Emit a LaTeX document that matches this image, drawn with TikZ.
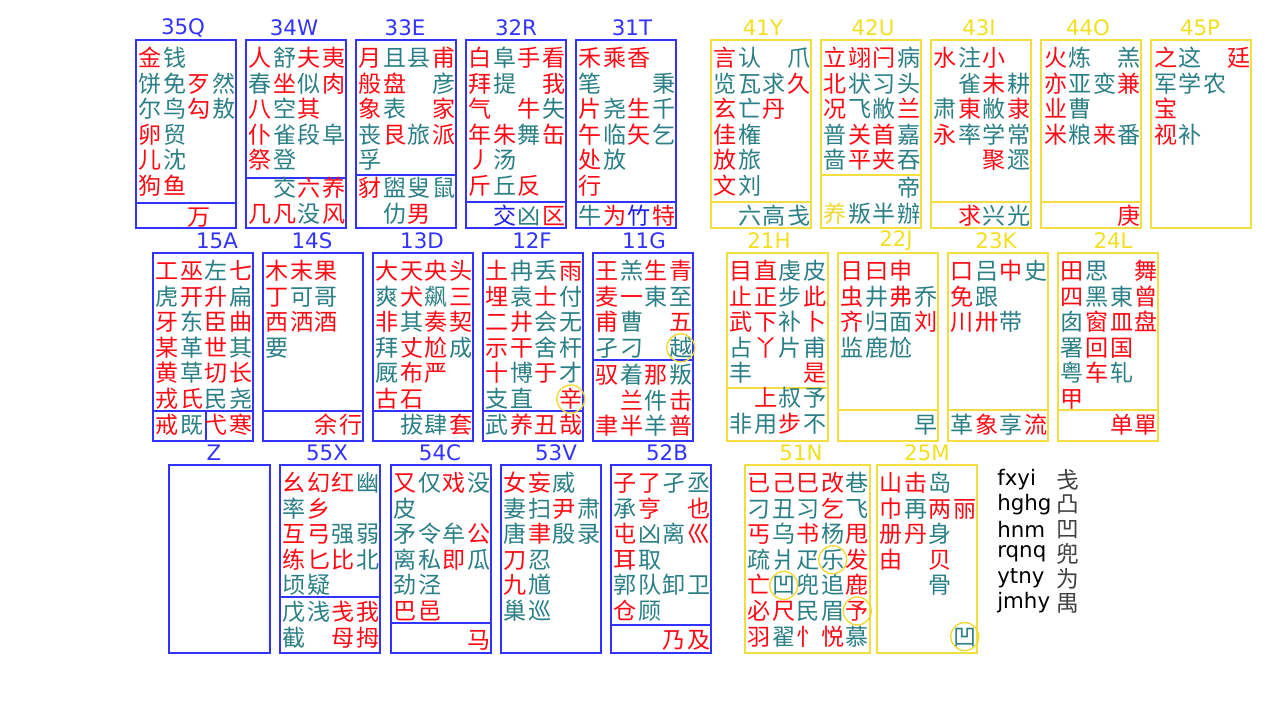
\documentclass[tikz,border=0pt]{standalone}
\usepackage{fontspec}
\setmainfont{DejaVu Sans}
\newfontfamily\cjk{Noto Sans CJK SC}
\newfontfamily\labfont{DejaVu Sans}
\definecolor{kr}{HTML}{FF0A14}
\definecolor{kt}{HTML}{2A7F86}
\definecolor{kb}{HTML}{2020F0}
\definecolor{ky}{HTML}{F0D830}
\definecolor{kblue}{HTML}{3333FF}
\definecolor{kyel}{HTML}{F2DE40}
\definecolor{kylab}{HTML}{F2E020}
\definecolor{kring}{HTML}{F0D830}
\newdimen\kcw \kcw=18.375pt
\makeatletter
\newcommand\keys[1]{\kk@loop#1\kk@end\kk@end}
\def\kk@loop#1#2{\ifx#1\kk@end\else\kk@cell#1{#2}\expandafter\kk@loop\fi}
\def\kk@cell#1#2{\ifx#1e\makebox[\kcw]{}\else\makebox[\kcw]{\textcolor{k#1}{#2}}\fi}
\makeatother
\newcommand\ksec[4]{%
  \foreach \rr [count=\ii from 0] in {#4} {
    \node[kline] (#1-\ii) at (#2+2, #3+8.5+25.6*\ii) {\expandafter\keys\expandafter{\rr}};
  }%
}
\begin{document}
\begin{tikzpicture}[x=0.75pt,y=-0.75pt,
  kline/.style={anchor=base west,inner sep=0pt,font=\cjk\fontsize{17.3}{17.3}\selectfont},
  klab/.style={inner sep=0pt,font=\labfont\fontsize{16}{16}\selectfont},
  leg/.style={anchor=west,inner sep=0pt,font=\labfont\fontsize{16}{16}\selectfont,text=black},
  legc/.style={anchor=west,inner sep=0pt,font=\cjk\fontsize{17}{17}\selectfont,text=black!75},
  bbox/.style={draw=kblue,line width=1.1pt},
  ybox/.style={draw=kyel,line width=1.1pt},
  ring/.style={draw=kring,line width=1pt}]
\fill[white] (0,0) rectangle (1280,720);
\useasboundingbox (0,0) rectangle (1280,720);

% ---- boxes row 1
\draw[bbox] (136,40) rectangle (236,228); \draw[bbox] (136,203) -- (236,203);
\draw[bbox] (246,40) rectangle (346,228); \draw[bbox] (246,178) -- (346,178);
\draw[bbox] (356,40) rectangle (456,228); \draw[bbox] (356,175) -- (456,175);
\draw[bbox] (466,40) rectangle (566,228); \draw[bbox] (466,202) -- (566,202);
\draw[bbox] (576,40) rectangle (676,228); \draw[bbox] (576,202) -- (676,202);
\draw[ybox] (711,40) rectangle (811,228); \draw[ybox] (711,202) -- (811,202);
\draw[ybox] (821,40) rectangle (921,228); \draw[ybox] (821,175) -- (921,175);
\draw[ybox] (931,40) rectangle (1031,228); \draw[ybox] (931,202) -- (1031,202);
\draw[ybox] (1041,40) rectangle (1141,228); \draw[ybox] (1041,202) -- (1141,202);
\draw[ybox] (1151,40) rectangle (1251,228);
% ---- boxes row 2
\draw[bbox] (153,253) rectangle (253,441); \draw[bbox] (153,411) -- (253,411); \draw[bbox] (206,411) -- (206,441);
\draw[bbox] (263,253) rectangle (363,441); \draw[bbox] (263,411) -- (363,411);
\draw[bbox] (373,253) rectangle (473,441); \draw[bbox] (373,411) -- (473,411);
\draw[bbox] (483,253) rectangle (583,441); \draw[bbox] (483,411) -- (583,411);
\draw[bbox] (593,253) rectangle (693,441); \draw[bbox] (593,360) -- (693,360);
\draw[ybox] (727,253) rectangle (828,441); \draw[ybox] (727,388) -- (828,388);
\draw[ybox] (838,253) rectangle (938,441); \draw[ybox] (838,410) -- (938,410);
\draw[ybox] (948,253) rectangle (1048,441); \draw[ybox] (948,410) -- (1048,410);
\draw[ybox] (1058,253) rectangle (1158,441); \draw[ybox] (1058,410) -- (1158,410);
% ---- boxes row 3
\draw[bbox] (169,465) rectangle (270,653);
\draw[bbox] (280,465) rectangle (380,653); \draw[bbox] (280,597) -- (380,597);
\draw[bbox] (391,465) rectangle (491,653); \draw[bbox] (391,623) -- (491,623);
\draw[bbox] (501,465) rectangle (601,653);
\draw[bbox] (611,465) rectangle (711,653); \draw[bbox] (611,625) -- (711,625);
\draw[ybox] (745,465) rectangle (870,653);
\draw[ybox] (877,465) rectangle (977,653);

% ---- labels
\node[klab,text=kblue] (lq) at (183,28) {35Q};
\node[klab,text=kblue] (lw) at (294,28) {34W};
\node[klab,text=kblue] (le) at (405,28) {33E};
\node[klab,text=kblue] (lr) at (516,28) {32R};
\node[klab,text=kblue] (lt) at (632,28) {31T};
\node[klab,text=kylab] (ly) at (763,28) {41Y};
\node[klab,text=kylab] (lu) at (873,28) {42U};
\node[klab,text=kylab] (li) at (979,28) {43I};
\node[klab,text=kylab] (lo) at (1088,28) {44O};
\node[klab,text=kylab] (lp) at (1200,28) {45P};
\node[klab,text=kblue] (la) at (217,241) {15A};
\node[klab,text=kblue] (ls) at (312,241) {14S};
\node[klab,text=kblue] (ld) at (422,241) {13D};
\node[klab,text=kblue] (lf) at (532,241) {12F};
\node[klab,text=kblue] (lg) at (644,241) {11G};
\node[klab,text=kylab] (lh) at (769,241) {21H};
\node[klab,text=kylab] (lj) at (896,241) {22J};
\node[klab,text=kylab] (lk) at (996,241) {23K};
\node[klab,text=kylab] (ll) at (1113,241) {24L};
\node[klab,text=kblue] (lz) at (214,453) {Z};
\node[klab,text=kblue] (lx) at (327,453) {55X};
\node[klab,text=kblue] (lc) at (440,453) {54C};
\node[klab,text=kblue] (lv) at (556,453) {53V};
\node[klab,text=kblue] (lb) at (667,453) {52B};
\node[klab,text=kylab] (ln) at (801,453) {51N};
\node[klab,text=kylab] (lm) at (927,453) {25M};

% ---- row 1 contents
\ksec{q}{136}{58}{r金t钱,t饼t免r歹t然,t尔t鸟r勾t敖,r卵t贸,r儿t沈,r狗r鱼}
\ksec{qb}{136}{217}{e-e-r万}
\ksec{w}{246}{58}{r人t舒r夫r夷,t春r坐t似r肉,r八t空r其,r仆t雀t段t阜,r祭t登}
\ksec{wb}{246}{188}{e-t交r六r养,r几r凡t没r风}
\ksec{e}{356}{58}{r月t且t县r甫,r般r盘e-t彦,r象t表e-r家,t丧r艮t旅r派,t孚}
\ksec{eb}{356}{188}{r豺t盥t叟t鼠,e-t仂r男}
\ksec{r}{466}{58}{r白t阜r手r看,r拜t提e-r我,r气e-r牛t失,r年r朱t舞r缶,r丿t汤,r斤t丘r反}
\ksec{rb}{466}{216}{e-b交t凶r区}
\ksec{t}{576}{58}{r禾r乘r香,t笔e-e-t秉,r片t尧r生t千,r午t临r矢t乞,r处t放,r行}
\ksec{tb}{576}{216}{t牛r为b竹r特}
\ksec{y}{711}{58}{r言t认e-t爪,t览t瓦t求r久,r玄t亡r丹,r佳t権,r放t旅,r文t刘}
\ksec{yb}{711}{216}{e-t六t高t戋}
\ksec{u}{821}{58}{r立r翊r闩t病,r北t状t习t头,r况t飞t敝r兰,t普r关r首t嘉,t啬r平r夹t吞}
\ksec{ub}{821}{188}{e-e-e-t帝,y养t叛t半t辦}
\ksec{i}{931}{58}{r水t注r小,e-t雀r未t耕,t肃r東t敝r隶,r永t率t学t常,e-e-r聚t遝}
\ksec{ib}{931}{216}{e-r求t兴t光}
\ksec{o}{1041}{58}{r火t炼e-t羔,r亦t亚t变r兼,r业t曹,r米t粮r来t番}
\ksec{ob}{1041}{216}{e-e-e-r庚}
\ksec{p}{1151}{58}{r之t这e-r廷,t军t学t农,r宝,r视t补}

% ---- row 2 contents
\ksec{a}{153}{271}{r工r巫t左r七,t虎r开r升t扁,r牙t东r臣r曲,r某t革r世t其,r黄t草r切r长,r戎r氏t民t尧}
\ksec{ab}{153}{425}{r戒t既r弋r寒}
\ksec{s}{263}{271}{r木r末r果,r丁t可t哥,r西r洒r酒,t要}
\ksec{sb}{263}{425}{e-e-r余r行}
\ksec{d}{373}{271}{r大r天r央r头,t爽r犬t飙r三,r非t其r奏r契,t拜r丈r尬t成,t厩r布r严,r古r石}
\ksec{db}{373}{425}{e-t拔t肆r套}
\ksec{f}{483}{271}{r土t冉t丢r雨,r埋t袁r士t付,r二r井t会t无,r示r干t舍t杆,r十t博r于t才,t支t直e-r辛}
\ksec{fb}{483}{425}{t武r养r丑r哉}
\ksec{g}{593}{271}{r王t羔r生r青,r麦r一t東t至,r甫t曹e-r五,t孑t刁e-t越}
\ksec{gb}{593}{375}{r驭t着r那t叛,e-r兰t件r击,r聿r半t羊r普}
\ksec{h}{727}{271}{r目r直t虔t皮,r止r正t步r此,r武r下t补r卜,t占r丫t片t甫,t丰e-e-r是}
\ksec{hb}{727}{398}{e-r上t叔t予,t非t用r步t不}
\ksec{j}{838}{271}{r日r曰r申,r虫t井r弗t乔,r齐t归t面r刘,t监t鹿t尬}
\ksec{jb}{838}{425}{e-e-e-t早}
\ksec{k}{948}{271}{r口t吕r中t史,r免t跟,r川r卅t带}
\ksec{kb}{948}{425}{t革r象t享r流}
\ksec{l}{1058}{271}{r田t思e-r舞,r四t黑t東r曾,t囱r窗r皿r盘,t署r回r国,t粤r车t轧,r甲}
\ksec{lb}{1058}{425}{e-e-r单r單}

% ---- row 3 contents
\ksec{x}{280}{483}{r幺r幻r红t幽,t率r乡,r互r弓t强t弱,r练r匕r比t北,t顷t疑}
\ksec{xb}{280}{612}{t戊t浅r戋r我,t截e-r母r拇}
\ksec{c}{391}{483}{r又t仅r戏t没,t皮,t矛t令t牟r公,t离t私r即t瓜,t劲t泾,r巴r邑}
\ksec{cb}{391}{640}{e-e-e-r马}
\ksec{v}{501}{483}{r女r妄t威,t妻t扫r尹t肃,t唐r聿t殷t录,r刀t忍,r九t馗,t巢t巡}
\ksec{b}{611}{483}{r子r了t孑t丞,t承r亨e-r也,r屯t凶t离r巛,r耳t取,t郭t队t卸t卫,r仓t顾}
\ksec{bb}{611}{640}{e-e-r乃r及}
\ksec{n}{745}{483}{r已r己r巳r改t巷,t刁t丑t习r乞t飞,r丐t乌r书t杨r甩,t疏t爿t疋t乐r发,r亡t凹t兜t追r鹿,r必r尺t民t眉r予,r羽t翟r忄r悦t慕}
\ksec{m}{877}{483}{r山r击t岛,r巾t再r两r丽,r册r丹t身,r由e-r贝,e-e-t骨,e-,e-e-e-t凹}

% ---- rings
\draw[ring] (680.75,347.8) circle (14);
\draw[ring] (570.75,399) circle (14);
\draw[ring] (832.75,559.8) circle (14);
\draw[ring] (783.75,585.4) circle (14);
\draw[ring] (857.25,611) circle (14);
\draw[ring] (964.75,636.6) circle (14);

% ---- legend
\foreach \w/\c [count=\k from 0] in {fxyi/戋,hghg/凸,hnm/凹,rqnq/兜,ytny/为,jmhy/禺} {
  \node[leg] (legw-\k) at (997,480+24.6*\k) {\w};
  \node[legc] (legc-\k) at (1056,480+24.6*\k) {\c};
}
\end{tikzpicture}
\end{document}
